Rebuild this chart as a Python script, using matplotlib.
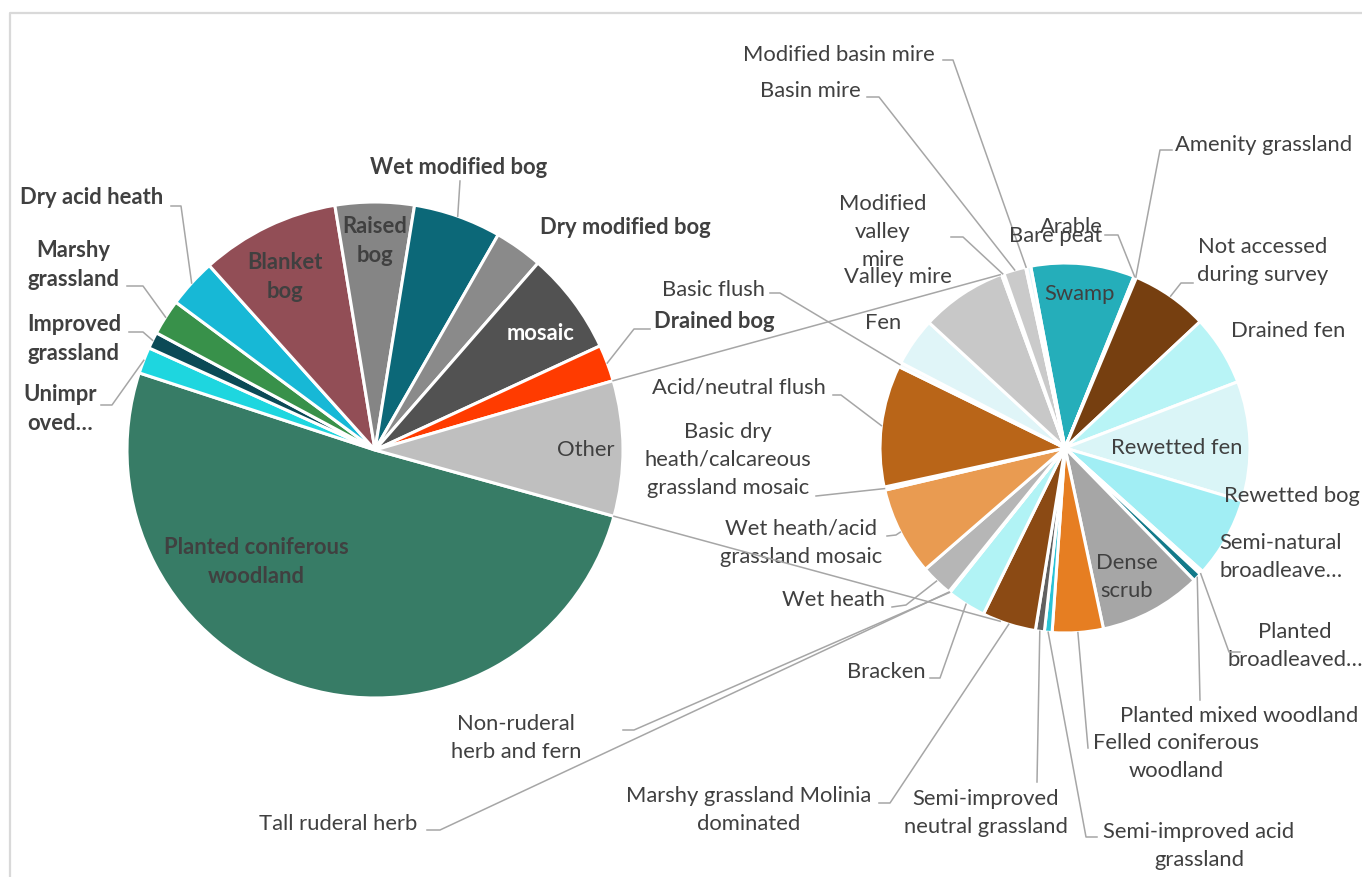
import numpy as np
import matplotlib.pyplot as plt

plt.rcParams['font.family'] = ['Lato', 'DejaVu Sans']

W, H = 1362, 877

# main pie, share of total area (%)
main_names = ["Planted coniferous woodland", "Unimproved grassland", "Improved grassland",
              "Marshy grassland", "Dry acid heath", "Blanket bog", "Raised bog",
              "Wet modified bog", "Dry modified bog", "mosaic", "Drained bog"]
main_values = [50.72, 1.72, 1.08, 2.33, 3.19, 9.06, 5.14, 5.72, 3.14, 6.69, 2.39]
main_colors = ["#377c66", "#1ed6df", "#0b4a56", "#38914a", "#17b8d6", "#924e56", "#858585",
               "#0c6878", "#8a8a8a", "#525252", "#ff3b00"]

# second pie, breakdown of "Other" (%)
sub_names = ["Swamp", "Arable", "Amenity grassland", "Not accessed during survey", "Drained fen",
             "Rewetted fen", "Rewetted bog", "Semi-natural broadleaved woodland",
             "Planted broadleaved woodland", "Planted mixed woodland", "Dense scrub",
             "Felled coniferous woodland", "Semi-improved acid grassland",
             "Semi-improved neutral grassland", "Marshy grassland Molinia dominated", "Bracken",
             "Non-ruderal herb and fern", "Tall ruderal herb", "Wet heath",
             "Wet heath/acid grassland mosaic", "Basic dry heath/calcareous grassland mosaic",
             "Acid/neutral flush", "Basic flush", "Fen", "Valley mire", "Modified valley mire",
             "Basin mire", "Modified basin mire", "Bare peat"]
sub_values = [0.798, 0.010, 0.010, 0.592, 0.541, 0.920, 0.619, 0.017, 0.010, 0.066, 0.790,
              0.392, 0.059, 0.069, 0.414, 0.303, 0.005, 0.005, 0.247, 0.680, 0.024, 0.937,
              0.034, 0.372, 0.666, 0.020, 0.171, 0.007, 0.032]
sub_colors = ["#25aeba", "#25aeba", "#7a4a20", "#763f10", "#b8f4f6", "#daf5f7", "#a1eef4",
              "#e4f8fa", "#d0f0f0", "#137a8a", "#a6a6a6", "#e67e22", "#29c3d5", "#606060",
              "#8b4a14", "#b1f3f5", "#cfcfcf", "#bdbdbd", "#b6b6b6", "#e99b51", "#f8f8f8",
              "#b96518", "#f5fbfc", "#e0f5f8", "#c8c8c8", "#f0f0f0", "#cacaca", "#ffffff",
              "#dff6fa"]

other = sum(sub_values)

# label layout: shown text, text centre (px), leader points (px) or None
main_layout = {
    "Planted coniferous woodland": ("Planted coniferous\nwoodland", (256, 562), None),
    "Unimproved grassland": ("Unimpr\noved…", (60, 409), [(101, 405), (112, 405)]),
    "Improved grassland": ("Improved\ngrassland", (74, 339), [(129, 332), (143, 332)]),
    "Marshy grassland": ("Marshy\ngrassland", (73, 265), [(127, 286), (143, 286)]),
    "Dry acid heath": ("Dry acid heath", (92, 198), [(171, 206), (181, 206)]),
    "Blanket bog": ("Blanket\nbog", (285, 277), None),
    "Raised bog": ("Raised\nbog", (375, 241), None),
    "Wet modified bog": ("Wet modified bog", (459, 168), [(460, 181)]),
    "Dry modified bog": ("Dry modified bog", (625, 228), None),
    "mosaic": ("mosaic", (541, 333), None),
    "Drained bog": ("Drained bog", (714, 321), [(650, 329), (634, 329)]),
}

sub_layout = {
    "Swamp": ("Swamp", (1080, 294), None),
    "Arable": ("Arable", (1071, 227), [(1105, 235), (1118, 235)]),
    "Amenity grassland": ("Amenity grassland", (1264, 145), [(1172, 150), (1160, 150)]),
    "Not accessed during survey": ("Not accessed\nduring survey", (1263, 261), [(1193, 283), (1181, 283)]),
    "Drained fen": ("Drained fen", (1288, 331), None),
    "Rewetted fen": ("Rewetted fen", (1177, 448), None),
    "Rewetted bog": ("Rewetted bog", (1292, 496), None),
    "Semi-natural broadleaved woodland": ("Semi-natural\nbroadleave…", (1281, 557), None),
    "Planted broadleaved woodland": ("Planted\nbroadleaved…", (1295, 646), [(1240, 652), (1229, 652)]),
    "Planted mixed woodland": ("Planted mixed woodland", (1239, 716), [(1200, 700)]),
    "Dense scrub": ("Dense\nscrub", (1127, 577), None),
    "Felled coniferous woodland": ("Felled coniferous\nwoodland", (1176, 757), [(1088, 748)]),
    "Semi-improved acid grassland": ("Semi-improved acid\ngrassland", (1199, 846), [(1097, 837), (1086, 837)]),
    "Semi-improved neutral grassland": ("Semi-improved\nneutral grassland", (986, 813), [(1037, 782)]),
    "Marshy grassland Molinia dominated": ("Marshy grassland Molinia\ndominated", (749, 810), [(879, 803), (890, 803)]),
    "Bracken": ("Bracken", (886, 672), [(930, 678), (940, 678)]),
    "Non-ruderal herb and fern": ("Non-ruderal\nherb and fern", (516, 738), [(623, 730), (634, 730)]),
    "Tall ruderal herb": ("Tall ruderal herb", (338, 824), [(427, 830), (440, 830)]),
    "Wet heath": ("Wet heath", (834, 600), [(892, 607), (906, 605)]),
    "Wet heath/acid grassland mosaic": ("Wet heath/acid\ngrassland mosaic", (801, 543), [(887, 536), (896, 535)]),
    "Basic dry heath/calcareous grassland mosaic": ("Basic dry\nheath/calcareous\ngrassland mosaic", (728, 460), [(816, 496)]),
    "Acid/neutral flush": ("Acid/neutral flush", (739, 388), [(833, 395), (841, 395)]),
    "Basic flush": ("Basic flush", (713, 290), [(770, 293), (780, 293)]),
    "Fen": ("Fen", (883, 323), None),
    "Valley mire": ("Valley mire", (898, 277), None),
    "Modified valley mire": ("Modified\nvalley\nmire", (883, 232), [(951, 237), (963, 237)]),
    "Basin mire": ("Basin mire", (810, 91), [(867, 97), (879, 97)]),
    "Modified basin mire": ("Modified basin mire", (839, 55), [(943, 60), (953, 60)]),
    "Bare peat": ("Bare peat", (1056, 236), None),
}

TXT = "#404040"
LINE = "#a6a6a6"
FS = 15.8


def P(x, y):
    return x, H - y


fig = plt.figure(figsize=(W / 100, H / 100), dpi=100)
ax = fig.add_axes([0, 0, 1, 1])

c1, r1 = P(375, 450), 248
c2, r2 = P(1065, 448), 185
wp = dict(edgecolor="white", linewidth=2.2)

w1, _ = ax.pie(main_values + [other], colors=main_colors + ["#bfbfbf"], startangle=-15.5,
               counterclock=False, center=c1, radius=r1, wedgeprops=wp)
w2, _ = ax.pie(sub_values, colors=sub_colors, startangle=100.7, counterclock=False,
               center=c2, radius=r2, wedgeprops=wp)


def edge_point(c, r, ang):
    a = np.deg2rad(ang)
    return c[0] + r * np.cos(a), c[1] + r * np.sin(a)


def put_labels(wedges, names, layout, c, r, bold):
    for w, name in zip(wedges, names):
        text, xy, pts = layout[name]
        col = "white" if name == "mosaic" else TXT
        ax.text(*P(*xy), text, ha="center", va="center", fontsize=FS, color=col,
                fontweight="bold" if bold else "normal", linespacing=1.52)
        if pts:
            tip = edge_point(c, r, (w.theta1 + w.theta2) / 2)
            xs = [P(*p)[0] for p in pts] + [tip[0]]
            ys = [P(*p)[1] for p in pts] + [tip[1]]
            ax.plot(xs, ys, color=LINE, lw=1.1, zorder=3)


put_labels(w1[:-1], main_names, main_layout, c1, r1, True)
put_labels(w2, sub_names, sub_layout, c2, r2, False)
ax.text(*P(586, 450), "Other", ha="center", va="center", fontsize=FS, color=TXT)

# series lines between the pies
ow = w1[-1]
for a1, a2 in [(ow.theta2, 110.5), (ow.theta1, -110.5)]:
    p1 = edge_point(c1, r1, a1)
    p2 = edge_point(c2, r2, a2)
    ax.plot([p1[0], p2[0]], [p1[1], p2[1]], color=LINE, lw=1.1, zorder=3)

# chart frame
ax.plot([10, 10, W], [0, H - 13, H - 13], color="#d9d9d9", lw=1.6)

ax.set_xlim(0, W)
ax.set_ylim(0, H)
ax.set_aspect("equal")
ax.axis("off")
fig.savefig("out.png", dpi=100)
